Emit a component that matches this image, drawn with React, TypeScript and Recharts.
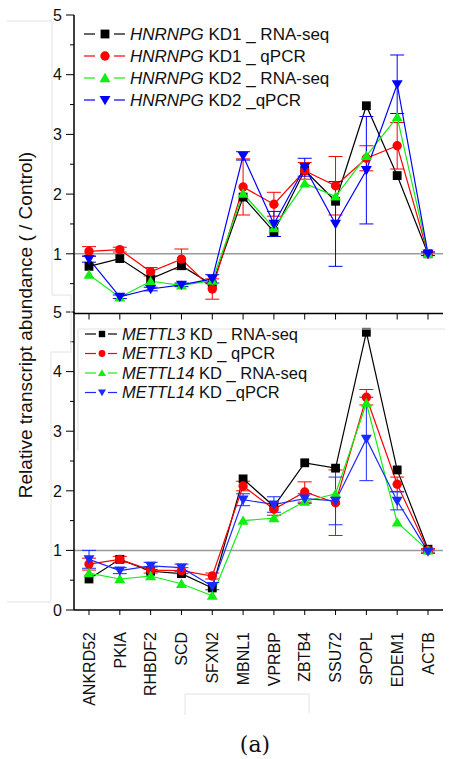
import { LineChart, Line, XAxis, YAxis, ReferenceLine, ErrorBar } from "recharts";

const genes = ["ANKRD52", "PKIA", "RHBDF2", "SCD", "SFXN2", "MBNL1", "VPRBP", "ZBTB4", "SSU72", "SPOPL", "EDEM1", "ACTB"];

// top panel: HNRNPG knockdowns
const hnrnpgKd1Seq = [0.79, 0.92, 0.58, 0.8, 0.48, 1.95, 1.37, 2.4, 1.88, 3.48, 2.31, 1.0];
const hnrnpgKd1Qpcr = [1.04, 1.07, 0.7, 0.91, 0.41, 2.12, 1.83, 2.39, 2.14, 2.6, 2.81, 1.0];
const hnrnpgKd1QpcrErr = [0.08, 0.04, 0.07, 0.17, 0.17, 0.47, 0.2, 0.14, 0.49, 0.21, 0.39, 0.03];
const hnrnpgKd2Seq = [0.65, 0.27, 0.54, 0.47, 0.55, 2.01, 1.43, 2.18, 1.96, 2.64, 3.29, 1.0];
const hnrnpgKd2Qpcr = [0.91, 0.28, 0.41, 0.48, 0.58, 2.64, 1.5, 2.45, 1.5, 2.4, 3.84, 1.0];
const hnrnpgKd2QpcrErr = [0.05, 0.03, 0.03, 0.03, 0.07, 0.07, 0.21, 0.15, 0.71, 0.9, 0.49, 0.03];

// bottom panel: METTL3 / METTL14 knockdowns
const mettl3Seq = [0.52, 0.85, 0.65, 0.61, 0.37, 2.2, 1.74, 2.47, 2.38, 4.66, 2.35, 1.02];
const mettl3Qpcr = [0.77, 0.85, 0.67, 0.66, 0.57, 2.08, 1.69, 1.98, 1.8, 3.57, 2.11, 1.0];
const mettl3QpcrErr = [0.1, 0.05, 0.05, 0.05, 0.05, 0.08, 0.1, 0.17, 0.55, 0.13, 0.12, 0.03];
const mettl14Seq = [0.62, 0.52, 0.57, 0.44, 0.24, 1.5, 1.54, 1.82, 1.95, 3.47, 1.47, 1.0];
const mettl14Qpcr = [0.85, 0.66, 0.74, 0.71, 0.4, 1.85, 1.77, 1.87, 1.83, 2.87, 1.83, 0.98];
const mettl14QpcrErr = [0.15, 0.05, 0.06, 0.06, 0.06, 0.1, 0.13, 0.08, 0.4, 0.7, 0.15, 0.03];

const topTicks = [0.5, 1, 1.5, 2, 2.5, 3, 3.5, 4, 4.5, 5];
const bottomTicks = [0, 0.5, 1, 1.5, 2, 2.5, 3, 3.5, 4, 4.5, 5];

type Shape = "square" | "circle" | "up" | "down";
type Series = { key: string; gene: string; rest: string; color: string; shape: Shape; values: number[]; err?: number[] };

const topSeries: Series[] = [
  { key: "a", gene: "HNRNPG", rest: " KD1 _ RNA-seq", color: "#000000", shape: "square", values: hnrnpgKd1Seq },
  { key: "b", gene: "HNRNPG", rest: " KD1 _ qPCR", color: "#ff0000", shape: "circle", values: hnrnpgKd1Qpcr, err: hnrnpgKd1QpcrErr },
  { key: "c", gene: "HNRNPG", rest: " KD2 _ RNA-seq", color: "#11ee11", shape: "up", values: hnrnpgKd2Seq },
  { key: "d", gene: "HNRNPG", rest: " KD2 _qPCR", color: "#0000ff", shape: "down", values: hnrnpgKd2Qpcr, err: hnrnpgKd2QpcrErr },
];

const bottomSeries: Series[] = [
  { key: "a", gene: "METTL3", rest: " KD _ RNA-seq", color: "#000000", shape: "square", values: mettl3Seq },
  { key: "b", gene: "METTL3", rest: " KD _ qPCR", color: "#ff0000", shape: "circle", values: mettl3Qpcr, err: mettl3QpcrErr },
  { key: "c", gene: "METTL14", rest: " KD _ RNA-seq", color: "#11ee11", shape: "up", values: mettl14Seq },
  { key: "d", gene: "METTL14", rest: " KD _qPCR", color: "#1a2bff", shape: "down", values: mettl14Qpcr, err: mettl14QpcrErr },
];

const FONT = "'Liberation Sans', Arial, sans-serif";

function buildRows(series: Series[]) {
  return genes.map((gene, i) => {
    const row: Record<string, any> = { gene };
    series.forEach((s) => {
      row[s.key] = s.values[i];
      if (s.err) row[s.key + "Err"] = s.err[i];
    });
    return row;
  });
}

function Marker({ cx, cy, shape, color, size }: { cx: number; cy: number; shape: Shape; color: string; size: number }) {
  if (cx == null || cy == null) return null;
  const h = size / 2;
  if (shape === "square") return <rect x={cx - h * 0.8} y={cy - h * 0.8} width={size * 0.8} height={size * 0.8} fill={color} />;
  if (shape === "circle") return <circle cx={cx} cy={cy} r={h * 0.85} fill={color} />;
  if (shape === "up") return <polygon points={`${cx - h},${cy + h * 0.75} ${cx + h},${cy + h * 0.75} ${cx},${cy - h * 0.95}`} fill={color} />;
  return <polygon points={`${cx - h},${cy - h * 0.75} ${cx + h},${cy - h * 0.75} ${cx},${cy + h * 0.95}`} fill={color} />;
}

const dotFor = (s: Series) => (p: any) => (
  <Marker key={`${s.key}-${p.index}`} cx={p.cx} cy={p.cy} shape={s.shape} color={s.color} size={11} />
);

function YTick(props: any) {
  const { x, y, payload } = props;
  const v = payload.value as number;
  const major = Number.isInteger(v);
  return (
    <g>
      <line x1={x - (major ? 8 : 4)} x2={x} y1={y} y2={y} stroke="#000" strokeWidth={1} />
      {major && (
        <text x={x - 12} y={y} dy="0.36em" textAnchor="end" fontSize={16} fontFamily={FONT} fill="#111">
          {v}
        </text>
      )}
    </g>
  );
}

function XTickMark(props: any) {
  const { x, y } = props;
  return <line x1={x} x2={x} y1={y} y2={y + 6} stroke="#000" strokeWidth={1} />;
}

function XTickLabel(props: any) {
  const { x, y, payload } = props;
  return (
    <g>
      <line x1={x} x2={x} y1={y} y2={y + 5} stroke="#000" strokeWidth={1} />
      <text
        transform={`translate(${x},${y + 22}) rotate(-90)`}
        dy="0.36em"
        textAnchor="end"
        fontSize={16}
        fontFamily={FONT}
        fill="#111"
      >
        {payload.value}
      </text>
    </g>
  );
}

function Panel({ series, ticks, height, marginTop, xHeight, labels }: { series: Series[]; ticks: number[]; height: number; marginTop: number; xHeight: number; labels: boolean }) {
  return (
    <LineChart width={452} height={height} data={buildRows(series)} margin={{ top: marginTop, right: 9, bottom: 0, left: 0 }}>
      <XAxis
        dataKey="gene"
        scale="point"
        padding={{ left: 15, right: 15 }}
        height={xHeight}
        interval={0}
        tickSize={0}
        tickMargin={0}
        tickLine={false}
        axisLine={{ stroke: "#000", strokeWidth: 1.5 }}
        tick={labels ? <XTickLabel /> : <XTickMark />}
      />
      <YAxis
        type="number"
        domain={[0, 5]}
        ticks={ticks}
        interval={0}
        width={74}
        tickSize={0}
        tickMargin={0}
        tickLine={false}
        axisLine={{ stroke: "#000", strokeWidth: 1.5 }}
        tick={<YTick />}
      />
      <ReferenceLine y={1} stroke="#9a9a9a" strokeWidth={1.5} />
      {series.map((s) => (
        <Line
          key={s.key}
          dataKey={s.key}
          stroke={s.color}
          strokeWidth={1.2}
          dot={dotFor(s)}
          activeDot={false}
          isAnimationActive={false}
        >
          {s.err && <ErrorBar dataKey={s.key + "Err"} width={7} stroke={s.color} strokeWidth={1} direction="y" />}
        </Line>
      ))}
    </LineChart>
  );
}

function LegendBlock({ series, x, y, step, fontSize, seg, size }: { series: Series[]; x: number; y: number; step: number; fontSize: number; seg: number[]; size: number }) {
  return (
    <g fontFamily={FONT} fontSize={fontSize} fill="#111">
      {series.map((s, i) => {
        const cy = y + i * step;
        return (
          <g key={s.key}>
            <line x1={x} x2={x + seg[0]} y1={cy} y2={cy} stroke={s.color} strokeWidth={1.2} />
            <line x1={x + seg[2]} x2={x + seg[3]} y1={cy} y2={cy} stroke={s.color} strokeWidth={1.2} />
            <Marker cx={x + seg[1]} cy={cy} shape={s.shape} color={s.color} size={size} />
            <text x={x + seg[3] + 5} y={cy} dy="0.36em">
              <tspan fontStyle="italic">{s.gene}</tspan>
              {s.rest}
            </text>
          </g>
        );
      })}
    </g>
  );
}

export default function App() {
  const faint = "#e2e2e2";
  return (
    <div style={{ position: "absolute", left: 0, top: 0, width: 452, height: 759, background: "#fff" }}>
      <div style={{ position: "absolute", left: 0, top: 0 }}>
        <Panel series={topSeries} ticks={topTicks} height={330} marginTop={15} xHeight={16.5} labels={false} />
      </div>
      <div style={{ position: "absolute", left: 0, top: 300 }}>
        <Panel series={bottomSeries} ticks={bottomTicks} height={420} marginTop={12} xHeight={110} labels />
      </div>
      <svg width={452} height={759} style={{ position: "absolute", left: 0, top: 0, pointerEvents: "none" }}>
        {/* faint scan leftovers */}
        <polyline points="7,21 52,21 52,295 71,295 71,352 51,352 51,602 7,602" fill="none" stroke={faint} strokeWidth={1} />
        <polyline points="78,451 78,329 445,329" fill="none" stroke={faint} strokeWidth={1} />
        <polyline points="185,715 185,694 309,694 309,713" fill="none" stroke={faint} strokeWidth={1} />
        <text
          transform="translate(25,325) rotate(-90)"
          dy="0.36em"
          textAnchor="middle"
          fontFamily={FONT}
          fontSize={19}
          fill="#111"
        >
          Relative transcript abundance ( / Control)
        </text>
        <LegendBlock series={topSeries} x={84} y={34} step={22} fontSize={17} seg={[11, 21, 30, 41]} size={11} />
        <LegendBlock series={bottomSeries} x={85} y={334} step={19.5} fontSize={16.5} seg={[11, 17, 23, 32]} size={8} />
        <text x={255} y={752} textAnchor="middle" fontFamily="'DejaVu Serif', 'Liberation Serif', serif" fontSize={22} fill="#111">
          (a)
        </text>
      </svg>
    </div>
  );
}
